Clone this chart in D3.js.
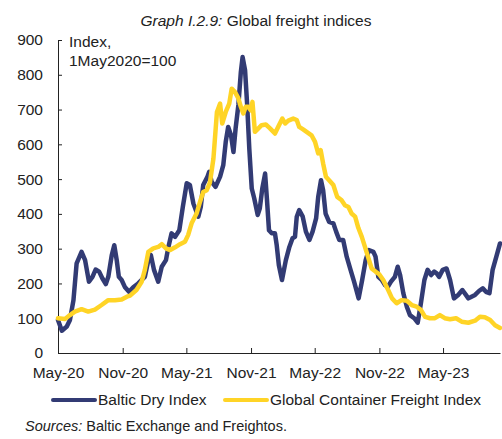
<!DOCTYPE html>
<html>
<head>
<meta charset="utf-8">
<script src="https://cdn.jsdelivr.net/npm/d3@7"></script>
<style>
  body { margin: 0; background: #fff; }
  svg { display: block; font-family: 'Liberation Sans', Arial, sans-serif; }
</style>
</head>
<body>
<svg id="chart" width="502" height="439"></svg>
<script>
// Baltic Dry Index, rebased 1 May 2020 = 100
const bdiDates = [
  '2020-05-01', '2020-05-12', '2020-05-26', '2020-06-04', '2020-06-14', '2020-06-23', '2020-07-07', '2020-07-17', '2020-07-28', '2020-08-07',
  '2020-08-16', '2020-08-26', '2020-09-04', '2020-09-14', '2020-09-21', '2020-10-01', '2020-10-08', '2020-10-15', '2020-10-21', '2020-10-29',
  '2020-11-07', '2020-11-19', '2020-12-01', '2020-12-15', '2020-12-25',
  '2021-01-03', '2021-01-13', '2021-01-20', '2021-01-29', '2021-02-10', '2021-02-20', '2021-03-04', '2021-03-11', '2021-03-20', '2021-03-30',
  '2021-04-11', '2021-04-21', '2021-05-02', '2021-05-11', '2021-05-21', '2021-06-04', '2021-06-11', '2021-06-18', '2021-06-30', '2021-07-05',
  '2021-07-12', '2021-07-23', '2021-08-05', '2021-08-14', '2021-08-21', '2021-08-28', '2021-09-05', '2021-09-12', '2021-09-18', '2021-09-26',
  '2021-10-03', '2021-10-08', '2021-10-15', '2021-10-21', '2021-10-27', '2021-11-03', '2021-11-10', '2021-11-20', '2021-11-26', '2021-12-03',
  '2021-12-11', '2021-12-16', '2021-12-22', '2021-12-30',
  '2022-01-08', '2022-01-13', '2022-01-19', '2022-01-28', '2022-02-08', '2022-02-18', '2022-02-27', '2022-03-06', '2022-03-11', '2022-03-18',
  '2022-03-28', '2022-04-06', '2022-04-16', '2022-04-25', '2022-05-05', '2022-05-11', '2022-05-19', '2022-05-25', '2022-06-01', '2022-06-11',
  '2022-06-23', '2022-07-01', '2022-07-10', '2022-07-21', '2022-07-31', '2022-08-11', '2022-08-21', '2022-09-03', '2022-09-13', '2022-09-23',
  '2022-10-02', '2022-10-15', '2022-10-21', '2022-10-29', '2022-11-08', '2022-11-17', '2022-11-25', '2022-12-04', '2022-12-15', '2022-12-23',
  '2022-12-30',
  '2023-01-08', '2023-01-18', '2023-01-27', '2023-02-08', '2023-02-18', '2023-02-27', '2023-03-09', '2023-03-18', '2023-03-28', '2023-04-06',
  '2023-04-13', '2023-04-20', '2023-04-30', '2023-05-11', '2023-05-21', '2023-06-01', '2023-06-13', '2023-06-25', '2023-07-05', '2023-07-12',
  '2023-07-21', '2023-07-31', '2023-08-12', '2023-08-22', '2023-08-31', '2023-09-10', '2023-09-19', '2023-10-01', '2023-10-10'
];
const bdiValues = [
  95, 64, 76, 95, 152, 258, 291, 267, 205, 219,
  240, 234, 215, 198, 219, 282, 310, 267, 219, 210,
  190, 176, 189, 200, 210,
  219, 267, 282, 239, 205, 248, 267, 305, 344, 334,
  353, 420, 488, 483, 430, 392, 420, 483, 507, 521,
  492, 478, 507, 540, 607, 650, 626, 578, 645, 713,
  808, 851, 813, 713, 588, 473, 445, 397, 416, 473,
  516, 445, 353, 344,
  344, 310, 253, 210, 267, 305, 330, 334, 392, 411,
  392, 349, 325, 349, 387, 449, 497, 468, 401, 377,
  373, 349, 325, 325, 277, 239, 205, 157, 210, 267,
  296, 291, 277, 219, 210, 195, 190, 205, 219, 248,
  224,
  172, 133, 109, 100, 87, 143, 210, 239, 224, 234,
  229, 219, 239, 243, 210, 157, 167, 181, 167, 157,
  162, 167, 179, 186, 176, 172, 239, 282, 315
];

// Global Container Freight Index (Freightos), rebased 1 May 2020 = 100
const gcfiDates = [
  '2020-05-01', '2020-05-21', '2020-06-04', '2020-06-18', '2020-07-07', '2020-07-26', '2020-08-14', '2020-09-02', '2020-09-21', '2020-10-10',
  '2020-10-29', '2020-11-13', '2020-11-22', '2020-12-10', '2020-12-25',
  '2021-01-03', '2021-01-13', '2021-01-27', '2021-02-10', '2021-02-20', '2021-03-04', '2021-03-16', '2021-03-30', '2021-04-13', '2021-04-27',
  '2021-05-06', '2021-05-16', '2021-05-30', '2021-06-09', '2021-06-18', '2021-06-28', '2021-07-07', '2021-07-17', '2021-07-27', '2021-08-05',
  '2021-08-11', '2021-08-21', '2021-08-31', '2021-09-07', '2021-09-16', '2021-09-26', '2021-10-03', '2021-10-10', '2021-10-17', '2021-10-24',
  '2021-10-31', '2021-11-05', '2021-11-12', '2021-11-22', '2021-12-01', '2021-12-13', '2021-12-25',
  '2022-01-08', '2022-01-17', '2022-01-29', '2022-02-06', '2022-02-15', '2022-03-01', '2022-03-11', '2022-03-18', '2022-03-29', '2022-04-08',
  '2022-04-22', '2022-05-02', '2022-05-11', '2022-05-18', '2022-05-25', '2022-06-02', '2022-06-11', '2022-06-23', '2022-07-04', '2022-07-16',
  '2022-07-26', '2022-08-05', '2022-08-14', '2022-08-24', '2022-09-02', '2022-09-12', '2022-09-21', '2022-10-01', '2022-10-10', '2022-10-21',
  '2022-10-31', '2022-11-12', '2022-11-26', '2022-12-07', '2022-12-20',
  '2023-01-03', '2023-01-18', '2023-02-01', '2023-02-15', '2023-02-27', '2023-03-11', '2023-03-25', '2023-04-08', '2023-04-22', '2023-05-06',
  '2023-05-21', '2023-06-07', '2023-06-23', '2023-07-12', '2023-07-31', '2023-08-14', '2023-08-28', '2023-09-12', '2023-09-26', '2023-10-10'
];
const gcfiValues = [
  100, 98, 109, 119, 126, 119, 125, 138, 152, 152,
  154, 162, 165, 181, 205,
  239, 291, 301, 305, 313, 301, 296, 304, 313, 320,
  339, 373, 401, 435, 463, 468, 490, 559, 693, 717,
  660, 693, 717, 760, 751, 732, 708, 689, 708, 708,
  698, 722, 636, 646, 655, 657, 646,
  631, 650, 674, 660, 668, 674, 670, 650, 643, 636,
  626, 607, 574, 583, 545, 507, 497, 483, 449, 440,
  425, 420, 401, 392, 360, 334, 305, 272, 243, 234,
  227, 210, 181, 157, 143,
  152, 150, 138, 133, 124, 104, 100, 100, 109, 100,
  97, 100, 90, 87, 93, 104, 103, 95, 80, 72
];

const xTickDates = ['2020-05-01', '2020-11-01', '2021-05-01', '2021-11-01', '2022-05-01', '2022-11-01', '2023-05-01'];
const xTickLabels = ['May-20', 'Nov-20', 'May-21', 'Nov-21', 'May-22', 'Nov-22', 'May-23'];
const yTicks = [0, 100, 200, 300, 400, 500, 600, 700, 800, 900];

const seriesNames = ['Baltic Dry Index', 'Global Container Freight Index'];
const seriesColors = ['#323b74', '#ffd426'];

const parseDate = d3.timeParse('%Y-%m-%d');

const render = () => {
  const svg = d3.select('#chart');
  const margin = { top: 40, right: 2, bottom: 86, left: 58 };
  const width = +svg.attr('width');
  const height = +svg.attr('height');
  const fontSize = '15.5px';

  const x = d3.scaleTime()
    .domain([parseDate('2020-05-01'), parseDate('2023-10-10')])
    .range([margin.left, width - margin.right]);
  const y = d3.scaleLinear()
    .domain([0, 900])
    .range([height - margin.bottom, margin.top]);

  const series = [
    bdiDates.map((d, i) => ({ date: parseDate(d), value: bdiValues[i] })),
    gcfiDates.map((d, i) => ({ date: parseDate(d), value: gcfiValues[i] })),
  ];

  // title
  const title = svg.append('text')
    .attr('x', 256)
    .attr('y', 26)
    .attr('text-anchor', 'middle')
    .style('font-size', fontSize)
    .attr('fill', '#222');
  title.append('tspan').attr('font-style', 'italic').text('Graph I.2.9:');
  title.append('tspan').text(' Global freight indices');

  // axes
  const xAxis = d3.axisBottom(x)
    .tickValues(xTickDates.map(parseDate))
    .tickFormat((d, i) => xTickLabels[i])
    .tickSizeInner(-5)
    .tickSizeOuter(0)
    .tickPadding(14);
  const yAxis = d3.axisLeft(y)
    .tickValues(yTicks)
    .tickSizeInner(-4)
    .tickSizeOuter(0)
    .tickPadding(15);

  const gx = svg.append('g')
    .attr('transform', `translate(0,${y(0)})`)
    .call(xAxis);
  const gy = svg.append('g')
    .attr('transform', `translate(${margin.left},0)`)
    .call(yAxis);

  [gx, gy].forEach(g => {
    g.selectAll('path, line').attr('stroke', '#222').attr('stroke-width', 1);
    g.selectAll('text')
      .style('font-size', fontSize)
      .style('font-family', 'Liberation Sans, Arial, sans-serif')
      .attr('fill', '#222');
  });

  // unit label
  svg.append('text')
    .attr('x', 69)
    .attr('y', 47)
    .style('font-size', fontSize)
    .attr('fill', '#222')
    .selectAll('tspan')
    .data(['Index,', '1May2020=100'])
    .join('tspan')
    .attr('x', 69)
    .attr('dy', (d, i) => (i === 0 ? 0 : 19))
    .text(d => d);

  // lines (container index drawn on top)
  const line = d3.line()
    .x(d => x(d.date))
    .y(d => y(d.value));

  svg.append('g')
    .selectAll('path')
    .data(series)
    .join('path')
    .attr('d', line)
    .attr('fill', 'none')
    .attr('stroke', (d, i) => seriesColors[i])
    .attr('stroke-width', 4.5)
    .attr('stroke-linejoin', 'round')
    .attr('stroke-linecap', 'round');

  // legend
  const legendX = [53, 225];
  const legend = svg.append('g')
    .selectAll('g')
    .data(seriesNames)
    .join('g')
    .attr('transform', (d, i) => `translate(${legendX[i]},400)`);
  legend.append('line')
    .attr('x1', 0)
    .attr('x2', 42)
    .attr('stroke', (d, i) => seriesColors[i])
    .attr('stroke-width', 4)
    .attr('stroke-linecap', 'round');
  legend.append('text')
    .attr('x', 45)
    .attr('dy', '0.35em')
    .style('font-size', fontSize)
    .attr('fill', '#222')
    .text(d => d);

  // source
  const source = svg.append('text')
    .attr('x', 25)
    .attr('y', 431)
    .style('font-size', '14.5px')
    .attr('fill', '#222');
  source.append('tspan').attr('font-style', 'italic').text('Sources:');
  source.append('tspan').text(' Baltic Exchange and Freightos.');
};

render();
</script>
</body>
</html>
